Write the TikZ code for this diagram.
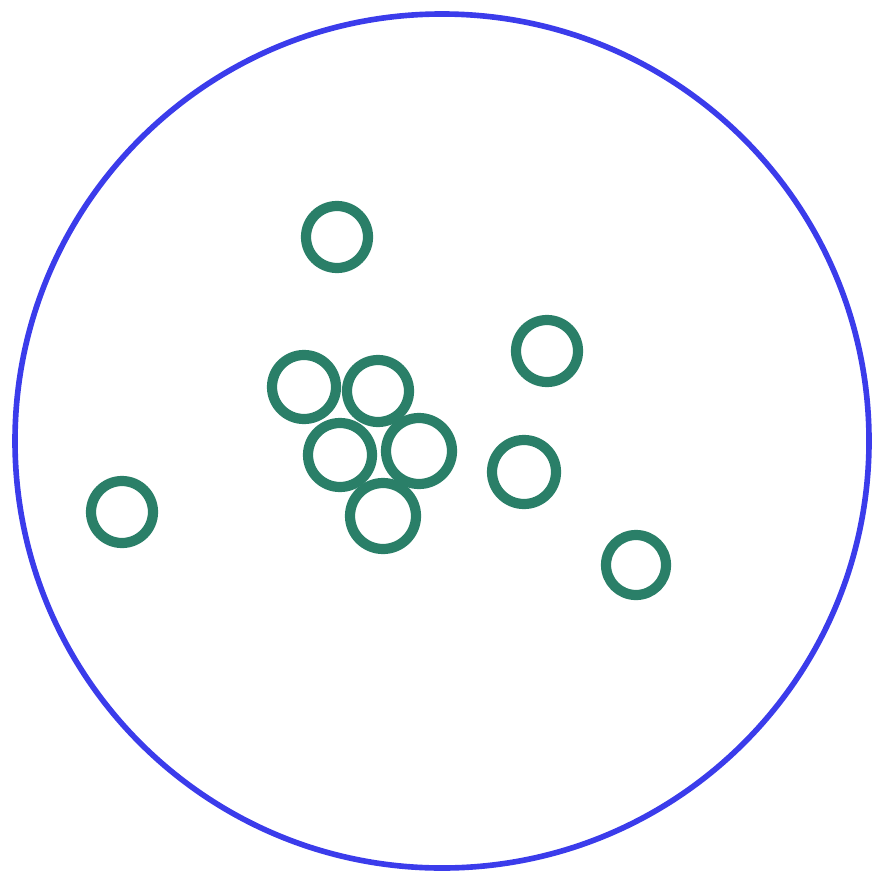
\documentclass[tikz,border=0pt]{standalone}
\usepackage{tikz}
\definecolor{dishblue}{HTML}{3B3CEB}
\definecolor{cellgreen}{HTML}{2A7F68}

\begin{document}
\begin{tikzpicture}[x=0.1mm,y=-0.1mm,
 dish/.style={draw=dishblue,line width=1.6pt},
 cell/.style={draw=cellgreen,line width=2.9pt}]
\useasboundingbox (0,0) rectangle (881,880);
\draw[dish] (442,441) circle (427);
\foreach \cx/\cy/\r in {337/237/31, 547/351/31, 304/387/32, 378/391/31,
  340/455/32, 419/451/33, 383/516/33, 524/472/32, 122/512/31, 636/565/30}
  \draw[cell] (\cx,\cy) circle (\r);
\end{tikzpicture}
\end{document}
